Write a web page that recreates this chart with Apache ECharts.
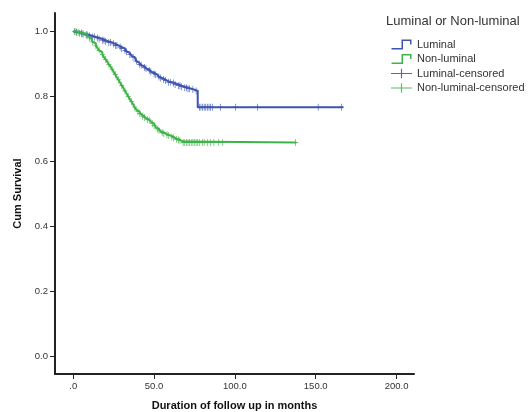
<!DOCTYPE html>
<html lang="en">
<head>
    <meta charset="UTF-8">
    <title>Cum Survival</title>
    <script src="https://cdn.jsdelivr.net/npm/echarts@6/dist/echarts.min.js"></script>
    <style>
        body { margin: 0; padding: 0; background: #fff; }
        #chart { width: 528px; height: 412px; }
    </style>
</head>
<body>
    <div id="chart"></div>
    <script>
        // event steps [month, cum survival]
        const luminalSteps = [
            [0, 1.0], [2, 0.998], [4, 0.995], [6, 0.992], [8, 0.989], [10, 0.986],
            [12, 0.983], [14, 0.980], [16, 0.977], [18, 0.973], [20, 0.969], [22, 0.966],
            [24, 0.962], [26, 0.957], [28, 0.952], [30, 0.947], [32, 0.942], [33, 0.938],
            [34, 0.934], [35, 0.929], [36, 0.925], [37, 0.921], [38, 0.915], [39, 0.909],
            [40, 0.903], [41, 0.899], [42, 0.896], [43, 0.893], [44, 0.889], [45, 0.886],
            [46, 0.883], [47, 0.880], [48, 0.876], [49, 0.873], [50, 0.870], [51, 0.867],
            [52, 0.863], [53, 0.860], [54, 0.857], [55, 0.855], [56, 0.852], [57, 0.849],
            [58, 0.846], [59, 0.844], [61, 0.841], [63, 0.837], [65, 0.833], [67, 0.830],
            [69, 0.827], [71, 0.824], [73, 0.821], [75, 0.817], [77, 0.767], [167, 0.767]
        ];
        const nonLuminalSteps = [
            [0, 1.0], [2, 0.998], [4, 0.995], [6, 0.993], [8, 0.990], [9, 0.986],
            [10, 0.980], [11, 0.974], [12, 0.968], [13, 0.963], [14, 0.956], [15, 0.949],
            [16, 0.942], [17, 0.936], [18, 0.929], [19, 0.921], [20, 0.914], [21, 0.907],
            [22, 0.899], [23, 0.892], [24, 0.884], [25, 0.876], [26, 0.867], [27, 0.859],
            [28, 0.851], [29, 0.842], [30, 0.834], [31, 0.826], [32, 0.817], [33, 0.809],
            [34, 0.800], [35, 0.792], [36, 0.784], [37, 0.776], [38, 0.767], [39, 0.759],
            [40, 0.753], [41, 0.748], [42, 0.744], [43, 0.739], [44, 0.735], [45, 0.732],
            [46, 0.729], [47, 0.727], [48, 0.722], [49, 0.716], [50, 0.710], [51, 0.705],
            [52, 0.700], [53, 0.696], [54, 0.692], [55, 0.689], [56, 0.686], [57, 0.684],
            [58, 0.682], [59, 0.680], [60, 0.677], [61, 0.675], [62, 0.672], [63, 0.670],
            [64, 0.668], [65, 0.666], [66, 0.664], [67, 0.661], [68, 0.658], [138, 0.658]
        ];
        // censored times (months)
        const luminalCensored = [
            1, 2, 4, 5, 6, 8, 9, 10, 12, 13, 15, 16, 18, 19, 20, 22, 23, 25, 26, 27, 29, 30,
            32, 33, 35, 37, 39, 41, 42, 44, 45, 47, 48, 50, 51, 53, 54, 56, 57, 59, 60, 62,
            63, 65, 66, 67, 69, 70, 71, 72, 74, 76, 78, 79, 80, 81, 82, 83, 84, 85, 86, 91,
            100.5, 114, 151.5, 166
        ];
        const nonLuminalCensored = [
            1, 2, 3, 5, 6, 8, 10, 12, 14, 16, 18, 20, 22, 24, 26, 28, 30, 32, 34, 36, 38,
            40, 41, 43, 44, 46, 47, 49, 50, 52, 53, 55, 56, 58, 59, 61, 62, 64, 65, 66, 68,
            69, 70, 71, 72, 73, 74, 75, 76, 77, 78, 80, 81, 83, 85, 87, 90, 92.5, 137.5
        ];
        const xTicks = [0, 50, 100, 150, 200];
        const yTicks = [0, 0.2, 0.4, 0.6, 0.8, 1.0];

        // survival value at time t from the step list
        function survAt(steps, t) {
            let s = steps[0][1];
            for (const p of steps) {
                if (p[0] <= t) s = p[1];
            }
            return s;
        }

        const blue = '#3d55b0';
        const green = '#3db447';
        const plus = 'path://M0,4.5 L10,4.5 L10,5.5 L0,5.5 Z M4.4,0 L5.6,0 L5.6,10 L4.4,10 Z';
        const stepIcon = 'path://M0,8.5 L10,8.5 L10,0 L20,0 L20,5 L18.5,5 L18.5,1.5 L11.5,1.5 L11.5,10 L0,10 Z';
        const plusIcon = 'path://M0,4.4 L22,4.4 L22,5.6 L0,5.6 Z M10.4,0 L11.6,0 L11.6,10 L10.4,10 Z';
        const font = '"Liberation Sans", Arial, sans-serif';

        const chart = echarts.init(document.getElementById('chart'));
        chart.setOption({
            animation: false,
            textStyle: { fontFamily: font },
            grid: { left: 55, right: 114, top: 13, bottom: 38, outerBoundsMode: 'none', containLabel: false },
            graphic: [{
                type: 'text', left: 386, top: 15,
                style: { text: 'Luminal or Non-luminal', font: '13px ' + font, fill: '#333' }
            }],
            legend: {
                orient: 'vertical', left: 386, top: 34, itemWidth: 21, itemHeight: 10, itemGap: 3.5,
                selectedMode: false,
                textStyle: { fontSize: 11, color: '#333', fontFamily: font },
                data: [
                    { name: 'Luminal', icon: stepIcon, itemStyle: { color: blue, opacity: 1 } },
                    { name: 'Non-luminal', icon: stepIcon, itemStyle: { color: green, opacity: 1 } },
                    { name: 'Luminal-censored', icon: plusIcon, itemStyle: { color: '#5068bc', opacity: 1 } },
                    { name: 'Non-luminal-censored', icon: plusIcon, itemStyle: { color: '#55c05d', opacity: 1 } }
                ]
            },
            xAxis: {
                type: 'value', min: -11.3, max: 210.8,
                name: 'Duration of follow up in months', nameLocation: 'middle', nameGap: 26,
                nameTextStyle: { fontWeight: 'bold', fontSize: 11, color: '#111', fontFamily: font },
                axisLine: { onZero: false, lineStyle: { color: '#222', width: 2 } },
                axisTick: { customValues: xTicks, length: 5, lineStyle: { color: '#222', width: 1 } },
                axisLabel: {
                    customValues: xTicks, margin: 7, fontSize: 9.5, color: '#333',
                    formatter: v => v === 0 ? '.0' : v.toFixed(1)
                },
                splitLine: { show: false }
            },
            yAxis: {
                type: 'value', min: -0.055, max: 1.057,
                name: 'Cum Survival', nameLocation: 'middle', nameGap: 28,
                nameTextStyle: { fontWeight: 'bold', fontSize: 11, color: '#111', fontFamily: font },
                axisLine: { show: true, onZero: false, lineStyle: { color: '#222', width: 2 } },
                axisTick: { show: true, customValues: yTicks, length: 5, lineStyle: { color: '#222', width: 1 } },
                axisLabel: {
                    customValues: yTicks, margin: 7, fontSize: 9.5, color: '#333',
                    formatter: v => v.toFixed(1)
                },
                splitLine: { show: false }
            },
            series: [
                {
                    name: 'Luminal', type: 'line', step: 'end', data: luminalSteps,
                    showSymbol: false, lineStyle: { color: blue, width: 2 }, itemStyle: { color: blue }
                },
                {
                    name: 'Non-luminal', type: 'line', step: 'end', data: nonLuminalSteps,
                    showSymbol: false, lineStyle: { color: green, width: 2 }, itemStyle: { color: green }
                },
                {
                    name: 'Luminal-censored', type: 'scatter', symbol: plus, symbolSize: [5, 7],
                    data: luminalCensored.map(t => [t, survAt(luminalSteps, t)]),
                    itemStyle: { color: blue, opacity: 1 }
                },
                {
                    name: 'Non-luminal-censored', type: 'scatter', symbol: plus, symbolSize: [5, 7],
                    data: nonLuminalCensored.map(t => [t, survAt(nonLuminalSteps, t)]),
                    itemStyle: { color: green, opacity: 1 }
                }
            ]
        });
    </script>
</body>
</html>
